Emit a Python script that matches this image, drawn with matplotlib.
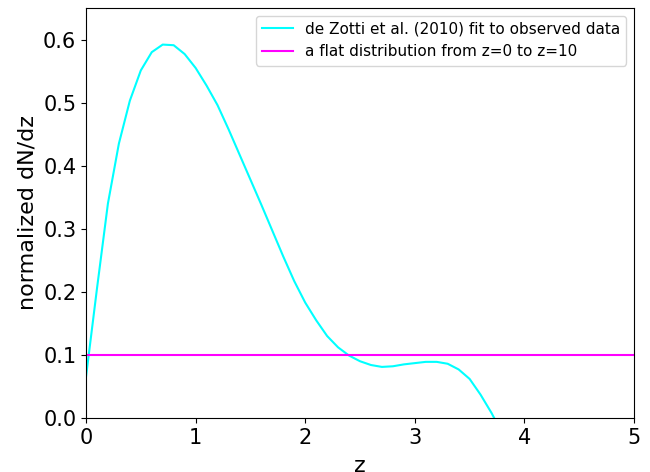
import matplotlib
matplotlib.use("Agg")
import matplotlib.pyplot as plt

# de Zotti et al. (2010) dN/dz fit, sampled every 0.1 in z
z_fit = [0.0, 0.1, 0.2, 0.3, 0.4, 0.5, 0.6, 0.7, 0.8, 0.9,
         1.0, 1.1, 1.2, 1.3, 1.4, 1.5, 1.6, 1.7, 1.8, 1.9,
         2.0, 2.1, 2.2, 2.3, 2.4, 2.5, 2.6, 2.7, 2.8, 2.9,
         3.0, 3.1, 3.2, 3.3, 3.4, 3.5, 3.6, 3.7, 3.8]
dndz_fit = [0.065, 0.205, 0.34, 0.435, 0.503, 0.551, 0.58, 0.592, 0.591, 0.577,
            0.555, 0.527, 0.496, 0.458, 0.418, 0.378, 0.338, 0.297, 0.256, 0.217,
            0.183, 0.155, 0.13, 0.112, 0.099, 0.09, 0.084, 0.081, 0.082, 0.085,
            0.087, 0.089, 0.089, 0.086, 0.077, 0.062, 0.037, 0.008, -0.025]

# flat distribution between z=0 and z=10
z_flat = [0.0, 10.0]
dndz_flat = [0.1, 0.1]

fig = plt.figure(figsize=(6.5, 4.72), dpi=100)
ax = fig.add_subplot(111)
fig.subplots_adjust(left=86/650, right=634/650, top=1-8/472, bottom=1-418/472)

ax.plot(z_fit, dndz_fit, color='cyan', label='de Zotti et al. (2010) fit to observed data')
ax.plot(z_flat, dndz_flat, color='magenta', label='a flat distribution from z=0 to z=10')

ax.set_xlim(0, 5)
ax.set_ylim(0, 0.65)
ax.set_xlabel('z', fontsize=16, labelpad=6)
ax.set_ylabel('normalized dN/dz', fontsize=16)
ax.tick_params(labelsize=15)
ax.legend(loc='upper right', fontsize=11)

plt.savefig('out.png', dpi=100)
